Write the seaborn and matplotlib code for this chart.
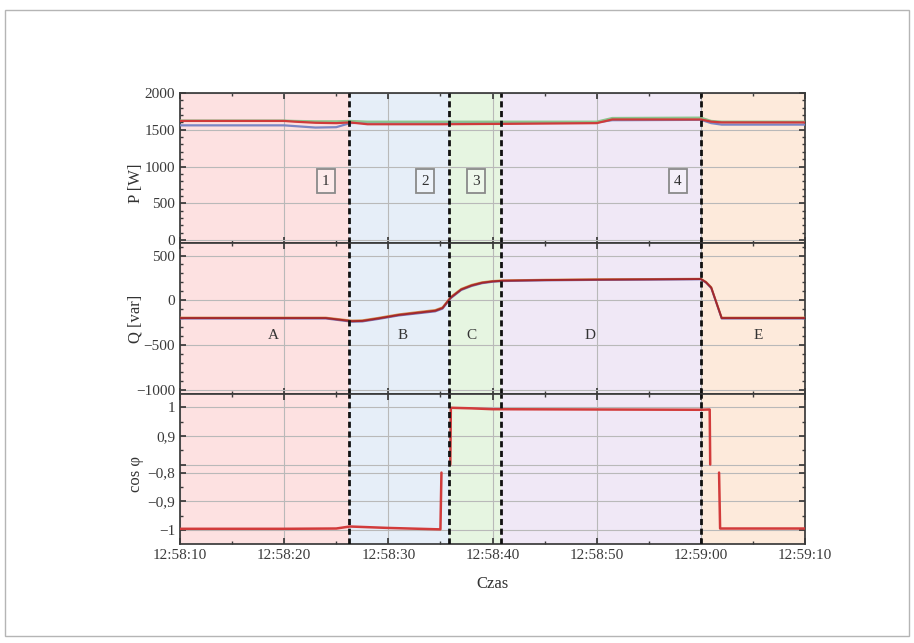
import numpy as np
import pandas as pd
import matplotlib
matplotlib.use("Agg")
import matplotlib.pyplot as plt
from matplotlib.ticker import FuncFormatter, MultipleLocator, FixedLocator
from matplotlib.patches import Rectangle
import seaborn as sns

# ---------------- data (time in seconds after 12:58:00) ----------------
t_P = [10, 20, 21, 23, 25, 26.3, 28, 35, 41, 50, 51.5, 60, 61, 62, 70]
P_L1 = [1620, 1620, 1610, 1595, 1590, 1600, 1575, 1575, 1580, 1590, 1640, 1640, 1610, 1600, 1600]
P_L2 = [1625, 1625, 1620, 1615, 1615, 1620, 1610, 1610, 1610, 1610, 1660, 1665, 1620, 1610, 1610]
P_L3 = [1560, 1560, 1550, 1530, 1535, 1590, 1600, 1600, 1600, 1600, 1630, 1635, 1590, 1570, 1570]

t_Q = [10, 24, 26.5, 27.5, 29, 31, 33, 34.5, 35.2, 36, 37, 38, 39, 40, 41, 45, 50, 55, 60, 60.5, 61, 62, 70]
Q_L1 = [-200, -200, -235, -232, -205, -165, -138, -118, -88, 30, 120, 165, 195, 210, 218, 225, 230, 233, 237, 200, 140, -200, -200]
Q_L2 = [-195, -195, -228, -225, -198, -158, -130, -110, -80, 38, 127, 172, 201, 215, 222, 229, 234, 237, 240, 205, 146, -195, -195]
Q_L3 = [-206, -206, -242, -239, -212, -172, -146, -126, -96, 22, 113, 158, 189, 205, 213, 221, 226, 229, 233, 195, 134, -206, -206]

# cos phi, split into continuous segments
cos_t = [10, 20, 25, 26.3, 30, 34, 35.0, 35.1,
         35.95, 36.0, 38, 40, 50, 60, 60.85, 60.9,
         61.75, 61.85, 65, 70]
cos_v = [-0.996, -0.996, -0.995, -0.988, -0.993, -0.997, -0.998, -0.80,
         0.80, 0.998, 0.996, 0.993, 0.992, 0.991, 0.992, 0.80,
         -0.80, -0.995, -0.995, -0.995]
cos_seg = [0, 0, 0, 0, 0, 0, 0, 0,
           1, 1, 1, 1, 1, 1, 1, 1,
           2, 2, 2, 2]

regions = ["A", "B", "C", "D", "E"]
region_edges = [10, 26.25, 35.85, 40.8, 60.05, 70]
region_colors = ["#fde1e1", "#e6eef8", "#e6f5e1", "#f0e8f6", "#fdeadb"]
region_label_x = [19.0, 31.4, 38.0, 49.4, 65.5]
event_labels = ["1", "2", "3", "4"]
event_label_x = [24.0, 33.5, 38.4, 57.8]

cos_ticks = [1.0, 0.9, 0.8, -0.8, -0.9, -1.0]
cos_ticklabels = ["1", "0,9", "", "\u22120,8", "\u22120,9", "\u22121"]
COS_OFFSET = 1.572  # folding of negative cos values below positive ones


def fold(c):
    c = np.asarray(c, dtype=float)
    return np.where(c > 0, c, c + COS_OFFSET)

# ---------------- tables ----------------
dfP = pd.DataFrame({
    "t": t_P * 3,
    "P": P_L1 + P_L2 + P_L3,
    "faza": ["L1"] * len(t_P) + ["L2"] * len(t_P) + ["L3"] * len(t_P),
})
dfQ = pd.DataFrame({
    "t": t_Q * 3,
    "Q": Q_L2 + Q_L3 + Q_L1,
    "faza": ["L2"] * len(t_Q) + ["L3"] * len(t_Q) + ["L1"] * len(t_Q),
})
dfC = pd.DataFrame({"t": cos_t, "c": fold(cos_v), "seg": cos_seg})

# ---------------- style ----------------
sns.set_theme(style="ticks")
plt.rcParams["font.family"] = ["Liberation Serif", "DejaVu Serif"]
plt.rcParams["font.size"] = 11
plt.rcParams["axes.edgecolor"] = "#3a3a3a"
plt.rcParams["xtick.color"] = "#3a3a3a"
plt.rcParams["ytick.color"] = "#3a3a3a"
plt.rcParams["text.color"] = "#333333"
plt.rcParams["axes.labelcolor"] = "#333333"

fig = plt.figure(figsize=(9.14, 6.43), dpi=100)
fig.patch.set_facecolor("white")
fig.patches.append(Rectangle((5 / 914, 1 - 636 / 643), 904 / 914, 626 / 643,
                             transform=fig.transFigure, fill=False,
                             edgecolor="#b5b5b5", lw=1.0))

L = 180 / 914
W = 625 / 914
axP = fig.add_axes([L, 1 - 243 / 643, W, 150 / 643])
axQ = fig.add_axes([L, 1 - 394 / 643, W, 151 / 643], sharex=axP)
axC = fig.add_axes([L, 1 - 544 / 643, W, 150 / 643], sharex=axP)

pal_P = {"L1": "#cf3a3a", "L2": "#8cc48c", "L3": "#7b86c4"}
pal_Q = {"L1": "#a3282b", "L2": "#d58b4a", "L3": "#7b6fb0"}

for ax in (axP, axQ, axC):
    for i in range(len(regions)):
        ax.axvspan(region_edges[i], region_edges[i + 1],
                   color=region_colors[i], zorder=0, lw=0)
    ax.grid(True, which="major", color="#b9b9b9", lw=0.8, zorder=1)
    ax.set_axisbelow(True)
    for x in region_edges[1:-1]:
        ax.axvline(x, color="#111111", lw=2.0, ls=(0, (2.2, 1.3)), zorder=5)
    ax.tick_params(which="both", direction="in", top=True, right=True)
    ax.tick_params(which="major", length=4, labelsize=11)
    ax.tick_params(which="minor", length=2)

sns.lineplot(data=dfP, x="t", y="P", hue="faza", palette=pal_P, ax=axP,
             lw=1.6, legend=False, zorder=3, estimator=None,
             hue_order=["L3", "L2", "L1"])
sns.lineplot(data=dfQ, x="t", y="Q", hue="faza", palette=pal_Q, ax=axQ,
             lw=1.4, legend=False, zorder=3, estimator=None,
             hue_order=["L2", "L3", "L1"])
sns.lineplot(data=dfC, x="t", y="c", units="seg", estimator=None, ax=axC,
             color="#d23b3b", lw=1.8, legend=False, zorder=3)

# axes limits / ticks
axP.set_xlim(10, 70)
axP.xaxis.set_major_locator(MultipleLocator(10))
axP.xaxis.set_minor_locator(MultipleLocator(5))
axC.xaxis.set_major_formatter(FuncFormatter(
    lambda v, p: f"12:{58 + int(round(v)) // 60:02d}:{int(round(v)) % 60:02d}"))
plt.setp(axP.get_xticklabels(), visible=False)
plt.setp(axQ.get_xticklabels(), visible=False)

axP.set_ylim(-40, 2000)
axP.yaxis.set_major_locator(MultipleLocator(500))
axP.yaxis.set_minor_locator(MultipleLocator(100))
axQ.set_ylim(-1050, 640)
axQ.yaxis.set_major_locator(MultipleLocator(500))
axQ.yaxis.set_minor_locator(MultipleLocator(100))
axQ.yaxis.set_major_formatter(FuncFormatter(
    lambda v, p: f"{int(v)}".replace("-", "\u2212")))

axC.set_ylim(0.523, 1.046)
axC.yaxis.set_major_locator(FixedLocator(list(fold(cos_ticks))))
axC.set_yticklabels(cos_ticklabels)
axC.yaxis.set_minor_locator(FixedLocator(list(fold([0.95, 0.85, -0.85, -0.95]))))

axP.set_ylabel("P [W]")
axQ.set_ylabel("Q [var]")
axC.set_ylabel("cos \u03c6")
axP.yaxis.set_label_coords(-0.058, 0.40)
axQ.yaxis.set_label_coords(-0.058, 0.50)
axC.yaxis.set_label_coords(-0.058, 0.47)
axC.set_xlabel("Czas")
axC.xaxis.set_label_coords(0.5, -0.21)
axP.set_xlabel("")
axQ.set_xlabel("")

# annotations
for lab, x in zip(event_labels, event_label_x):
    axP.text(x, 800, lab, ha="center", va="center", fontsize=11, zorder=6,
             bbox=dict(boxstyle="square,pad=0.35", facecolor=(1, 1, 1, 0.35),
                       edgecolor="#8a8a8a", lw=1.3))
for lab, x in zip(regions, region_label_x):
    axQ.text(x, -390, lab, ha="center", va="center", fontsize=11, zorder=6)

fig.savefig("out.png", dpi=100, facecolor="white")
